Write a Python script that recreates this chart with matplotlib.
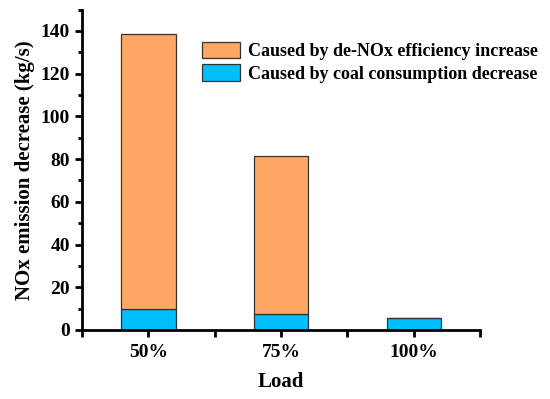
import numpy as np
import matplotlib.pyplot as plt
from matplotlib.ticker import MultipleLocator

plt.rcParams['font.family'] = 'Liberation Serif'
plt.rcParams['font.weight'] = 'bold'

# data
loads = ['50%', '75%', '100%']
coal_part = [9.7, 7.6, 5.6]
denox_part = [128.7, 73.9, 0.0]

fig = plt.figure(figsize=(5.5, 3.99), dpi=100)
ax = fig.add_axes([0.149, 0.173, 0.724, 0.803])

x = np.arange(1, len(loads) + 1)
w = 0.41
ax.bar(x, coal_part, w, color='#00BFFF', edgecolor='#333333', linewidth=0.9,
       label='Caused by coal consumption decrease')
ax.bar(x, denox_part, w, bottom=coal_part, color='#FFA764', edgecolor='#333333',
       linewidth=0.9, label='Caused by de-NOx efficiency increase')

ax.set_xlim(0.5, 3.5)
ax.set_ylim(0, 150)
ax.set_xticks(x)
ax.set_xticklabels(loads)
ax.xaxis.set_minor_locator(MultipleLocator(0.5))
ax.yaxis.set_major_locator(MultipleLocator(20))
ax.yaxis.set_minor_locator(MultipleLocator(10))

for s in ['top', 'right']:
    ax.spines[s].set_visible(False)
for s in ['left', 'bottom']:
    ax.spines[s].set_linewidth(2)
ax.tick_params(which='major', width=2, length=5, labelsize=14, direction='out')
ax.tick_params(which='minor', width=2, length=3, direction='out')
ax.tick_params(axis='x', which='both', length=5, pad=5)

ax.set_xlabel('Load', fontsize=15, fontweight='bold', labelpad=8)
ax.set_ylabel('NOx emission decrease (kg/s)', fontsize=15, fontweight='bold', labelpad=4)

h, l = ax.get_legend_handles_labels()
ax.legend(h[::-1], l[::-1], loc='upper right', bbox_to_anchor=(1.146, 0.9),
          frameon=False, fontsize=13, handlelength=2.1, handleheight=1.0,
          handletextpad=0.45, labelspacing=0.25, borderpad=0, borderaxespad=0)

fig.savefig('out.png', dpi=100)
